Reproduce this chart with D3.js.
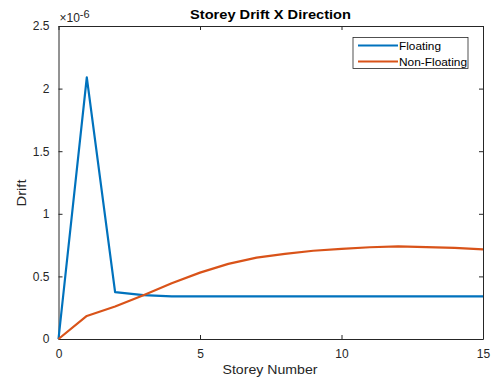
<!DOCTYPE html>
<html>
<head>
<meta charset="utf-8">
<script src="https://cdn.jsdelivr.net/npm/d3@7"></script>
<style>
  body { margin: 0; background: #fff; }
  svg { font-family: "Liberation Sans", Arial, sans-serif; }
  .tick text { fill: #262626; font-size: 12px; }
</style>
</head>
<body>
<svg class="chart"></svg>
<script>
var storeys = [0, 1, 2, 3, 4, 5, 6, 7, 8, 9, 10, 11, 12, 13, 14, 15];
var floating = [0, 2.09, 0.375, 0.35, 0.34, 0.34, 0.34, 0.34, 0.34, 0.34, 0.34, 0.34, 0.34, 0.34, 0.34, 0.34];
var nonFloating = [0, 0.184, 0.26, 0.35, 0.445, 0.53, 0.60, 0.65, 0.68, 0.705, 0.72, 0.733, 0.74, 0.734, 0.728, 0.716];
var xTicks = [0, 5, 10, 15];
var yTicks = [0, 0.5, 1, 1.5, 2, 2.5];
var seriesNames = ["Floating", "Non-Floating"];
var colors = ["#0072BD", "#D95319"];

var margin = {top: 26, right: 14, bottom: 42, left: 58.5},
  width = 497 - margin.left - margin.right,
  height = 381 - margin.top - margin.bottom;

var svg = d3.select(".chart")
  .attr("width", 497)
  .attr("height", 381);

var chart = svg.append("g")
  .attr("transform", "translate(" + margin.left + "," + margin.top + ")");

var x = d3.scaleLinear().domain([0, 15]).range([0, width]);
var y = d3.scaleLinear().domain([0, 2.5]).range([height, 0]);
var fmt = d3.format("~g");

// axes with inward ticks, box on all four sides
function styleAxis(g) {
  g.select(".domain").attr("stroke", "#262626");
  g.selectAll(".tick line").attr("stroke", "#262626");
}

chart.append("g")
  .attr("transform", "translate(0," + height + ")")
  .call(d3.axisBottom(x).tickValues(xTicks).tickSize(-4).tickSizeOuter(0).tickPadding(10).tickFormat(fmt))
  .call(styleAxis);
chart.append("g")
  .call(d3.axisTop(x).tickValues(xTicks).tickSize(-4).tickSizeOuter(0).tickFormat(""))
  .call(styleAxis);
chart.append("g")
  .call(d3.axisLeft(y).tickValues(yTicks).tickSize(-4).tickSizeOuter(0).tickPadding(9).tickFormat(fmt))
  .call(styleAxis);
chart.append("g")
  .attr("transform", "translate(" + width + ",0)")
  .call(d3.axisRight(y).tickValues(yTicks).tickSize(-4).tickSizeOuter(0).tickFormat(""))
  .call(styleAxis);

chart.selectAll(".tick text").style("font-family", "Liberation Sans, Arial, sans-serif");

var line = d3.line()
  .x(function(d, i) { return x(storeys[i]); })
  .y(function(d) { return y(d); });

[floating, nonFloating].forEach(function(s, i) {
  chart.append("path")
    .datum(s)
    .attr("fill", "none")
    .attr("stroke", colors[i])
    .attr("stroke-width", 2.2)
    .attr("stroke-linejoin", "round")
    .attr("d", line);
});

// exponent label
var expo = svg.append("text")
  .attr("x", margin.left + 1)
  .attr("y", 22)
  .attr("fill", "#262626")
  .style("font-size", "12px");
expo.append("tspan").text("\u00d710");
expo.append("tspan").attr("dy", -4).style("font-size", "11px").text("-6");

// title and labels
svg.append("text")
  .attr("x", 190)
  .attr("y", 19)
  .attr("textLength", 161)
  .attr("lengthAdjust", "spacingAndGlyphs")
  .style("font-weight", "bold")
  .style("font-size", "13px")
  .attr("fill", "#000")
  .text("Storey Drift X Direction");

svg.append("text")
  .attr("x", 222.5)
  .attr("y", 374)
  .attr("textLength", 95)
  .attr("lengthAdjust", "spacingAndGlyphs")
  .style("font-size", "12px")
  .attr("fill", "#262626")
  .text("Storey Number");

svg.append("text")
  .attr("transform", "translate(26," + (margin.top + height / 2 + 24) + ") rotate(-90)")
  .attr("textLength", 27)
  .attr("lengthAdjust", "spacingAndGlyphs")
  .style("font-size", "12px")
  .attr("fill", "#262626")
  .text("Drift");

// legend
var legendWidths = [42, 68];
var legend = svg.append("g").attr("transform", "translate(353,37.5)");
legend.append("rect")
  .attr("width", 115)
  .attr("height", 31)
  .attr("fill", "#fff")
  .attr("stroke", "#262626")
  .attr("stroke-width", 0.8);

seriesNames.forEach(function(name, i) {
  var row = legend.append("g").attr("transform", "translate(0," + (8 + i * 16) + ")");
  row.append("line")
    .attr("x1", 5).attr("x2", 45)
    .attr("stroke", colors[i])
    .attr("stroke-width", 2.2);
  row.append("text")
    .attr("x", 46)
    .attr("dy", "0.35em")
    .attr("textLength", legendWidths[i])
    .attr("lengthAdjust", "spacingAndGlyphs")
    .style("font-size", "11.5px")
    .attr("fill", "#000")
    .text(name);
});
</script>
</body>
</html>
